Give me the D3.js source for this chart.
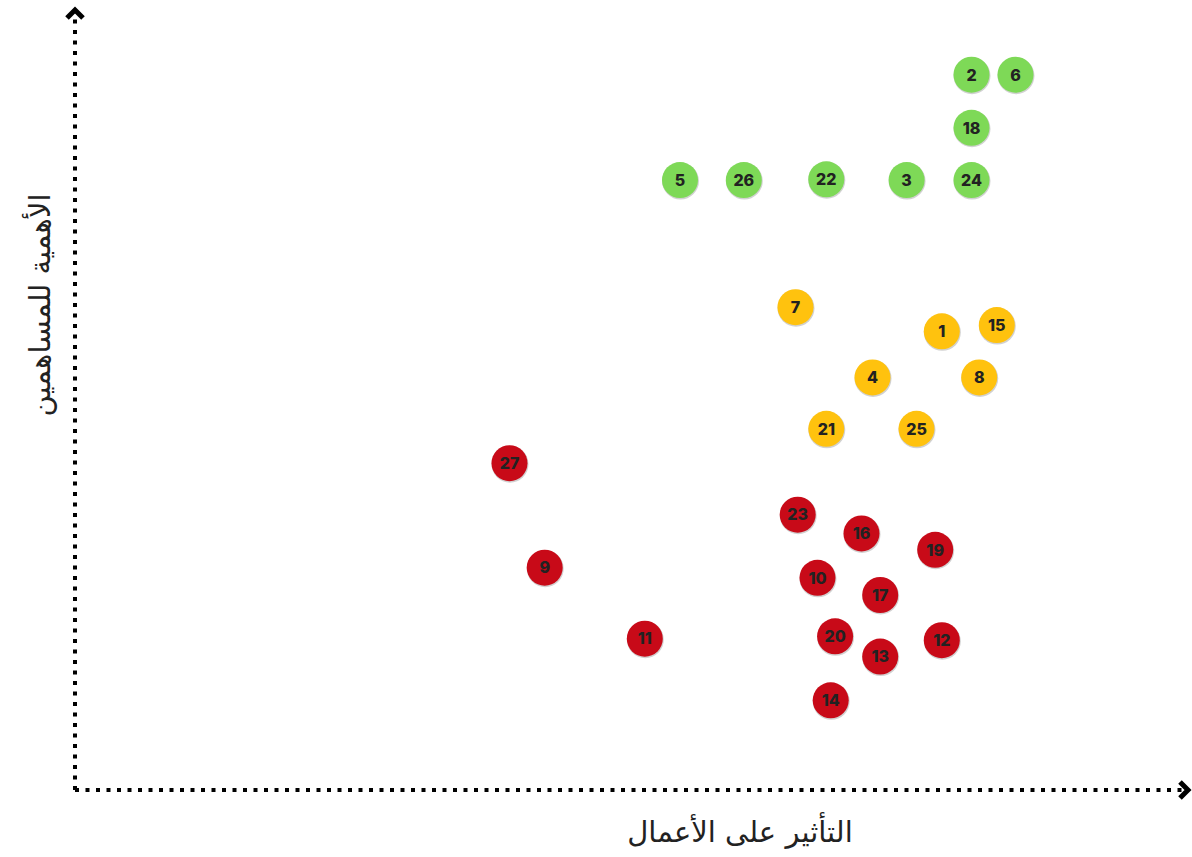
<!DOCTYPE html>
<html><head><meta charset="utf-8">
<script src="https://cdn.jsdelivr.net/npm/d3@7"></script>
<style>body{margin:0;background:#fff}svg{display:block}</style>
</head><body>
<script>
const ids     = [2,6,18,5,26,22,3,24, 7,1,15,4,8,21,25, 27,23,16,19,9,10,17,11,20,12,13,14];
const impact  = [81.5,85.5,81.5,55.0,60.8,68.3,75.6,81.5, 65.5,78.8,83.8,72.5,82.2,68.3,76.5, 39.5,65.7,71.5,78.2,42.7,67.5,73.2,51.8,69.1,78.8,73.2,68.7];
const importance = [91.7,91.7,84.9,78.2,78.2,78.3,78.2,78.2, 61.9,58.8,59.6,52.9,52.9,46.3,46.3, 41.9,35.3,32.9,30.8,28.5,27.2,25.0,19.4,19.7,19.2,17.1,11.5];
const groups  = ["g","g","g","g","g","g","g","g", "y","y","y","y","y","y","y", "r","r","r","r","r","r","r","r","r","r","r","r"];
const groupColors = {g:"#7ed957", y:"#ffc20e", r:"#c80a18"};
const xLabel = "التأثير على الأعمال";
const yLabel = "الأهمية للمساهمين";

const W=1192,H=857;
const svg=d3.select("body").append("svg").attr("width",W).attr("height",H);
const x=d3.scaleLinear().domain([0,100]).range([75,1175]);
const y=d3.scaleLinear().domain([0,100]).range([790,10]);

// axes
const ax=svg.append("g").attr("stroke","#000").attr("stroke-width",4).attr("fill","none");
ax.append("line").attr("x1",x(0)).attr("y1",y(0)).attr("x2",x(0)).attr("y2",y(100)+4).attr("stroke-dasharray","4,6.5");
ax.append("line").attr("x1",x(0)).attr("y1",y(0)).attr("x2",x(100)+8).attr("y2",y(0)).attr("stroke-dasharray","4,6.5");
ax.append("path").attr("d",`M${x(0)-8},${y(100)+8} L${x(0)},${y(100)} L${x(0)+8},${y(100)+8}`).attr("stroke-width",5).attr("stroke-linejoin","miter");
ax.append("path").attr("d",`M${x(100)+5},${y(0)-8} L${x(100)+13},${y(0)} L${x(100)+5},${y(0)+8}`).attr("stroke-width",5).attr("stroke-linejoin","miter");

const data=ids.map((id,i)=>({id,x:impact[i],y:importance[i],g:groups[i]}));
const n=svg.append("g").selectAll("g").data(data).join("g")
  .attr("transform",d=>`translate(${x(d.x)},${y(d.y)})`);
n.append("circle").attr("r",18.5).attr("cx",0.5).attr("cy",1).attr("fill","rgba(0,0,0,0.18)");
n.append("circle").attr("r",18).attr("fill",d=>groupColors[d.g]);
n.append("text").text(d=>d.id).attr("text-anchor","middle").attr("dy","0.36em")
  .attr("font-family","Inter, 'Open Sans', sans-serif").attr("font-weight",800)
  .attr("font-size",16).attr("fill","#222");

svg.append("text").text(xLabel).attr("x",740).attr("y",842).attr("text-anchor","middle")
  .attr("font-family","'DejaVu Sans', 'Noto Sans', sans-serif").attr("font-size",29).attr("fill","#222");
svg.append("text").text(yLabel).attr("transform","translate(50,305) rotate(-90)").attr("text-anchor","middle")
  .attr("font-family","'DejaVu Sans', 'Noto Sans', sans-serif").attr("font-size",29).attr("fill","#222");
</script>
</body></html>
